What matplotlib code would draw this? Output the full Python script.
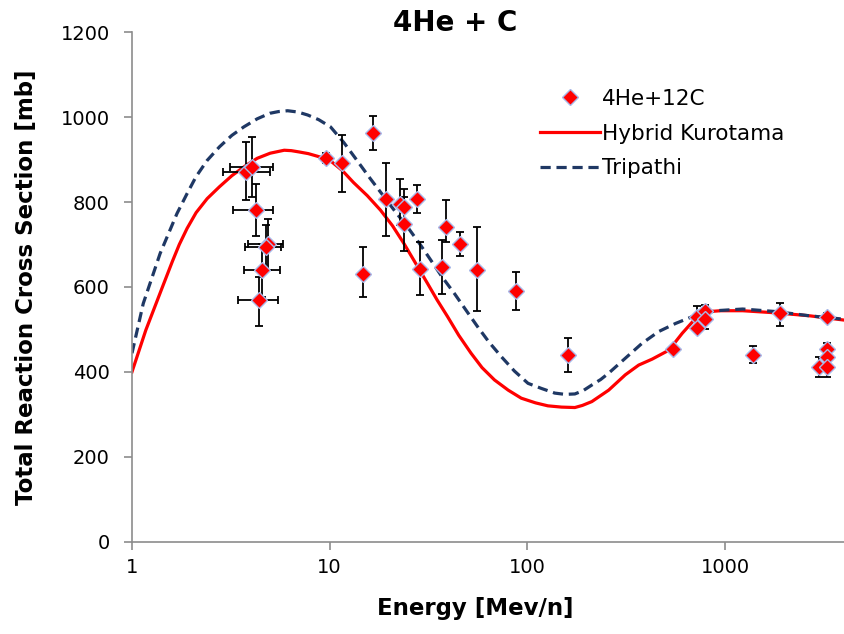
import numpy as np
import matplotlib.pyplot as plt

# measured points (4He + 12C)
energy = [3.79, 4.05, 4.23, 4.88, 4.75, 4.55, 4.39, 9.6, 11.6, 16.5, 14.7, 19.2,
          22.8, 23.9, 23.9, 27.6, 28.6, 38.7, 37.2, 45.6, 55.5, 87.2, 160, 547,
          719, 719, 789, 789, 1900, 1390, 3290, 3290, 3290, 2990, 3290]
sigma = [871, 882, 782, 700, 693, 639, 570, 904, 892, 963, 631, 806,
         796, 788, 749, 806, 643, 741, 647, 700, 639, 590, 440, 453,
         530, 503, 543, 525, 538, 440, 529, 453, 436, 411, 411]
sigma_lo = [804, 812, 721, 639, 640, 576, 509, 893, 823, 923, 576, 721,
            745, 745, 685, 773, 580, 706, 584, 672, 543, 546, 399, np.nan,
            510, np.nan, 528, 501, 509, 420, 519, 438, np.nan, 387, 387]
sigma_hi = [941, 953, 843, 761, 745, 702, 623, 915, 957, 1002, 694, 892,
            855, 831, 813, 839, 706, 804, 710, 729, 741, 635, 480, np.nan,
            554, np.nan, 558, 540, 563, 460, 539, 468, np.nan, 436, 435]
energy_lo = [2.87, 3.15, 3.24, 3.86, 3.75, 3.67, 3.43]
energy_hi = [4.98, 5.15, 5.18, 5.82, 5.70, 5.60, 5.49]

# model curves
kuro_E = [1.0, 1.174, 1.426, 1.6, 1.735, 1.9, 2.11, 2.4, 2.77, 3.2, 3.79, 4.3, 5.0, 5.89,
          6.4, 7.0, 7.8, 8.95, 10.1, 11.6, 13.2, 15.5, 18.07, 20.8, 23.7, 27.2, 31.2,
          35, 39.5, 45, 51.9, 59, 68.2, 80, 93.2, 110, 127, 149, 174, 190, 212, 258,
          313, 366, 428, 520, 608, 710, 760, 831, 950, 1228, 1813, 2683, 4000]
kuro_sig = [400, 498, 600, 660, 700, 738, 775, 808, 836, 862, 887, 903, 915, 922,
            921, 918, 914, 906, 897, 874, 846, 815, 781, 744, 703, 656, 609,
            569, 530, 486, 444, 410, 381, 357, 338, 327, 320, 317, 316, 321, 330, 357,
            393, 416, 430, 451, 491, 526, 536, 542, 544, 544, 539, 532, 522]

trip_E = [1.0, 1.14, 1.388, 1.689, 1.9, 2.11, 2.4, 2.77, 3.2, 3.68, 4.3, 4.98, 5.5,
          6.13, 6.9, 7.74, 8.8, 10.1, 11.8, 13.7, 16, 18.8, 21.5, 24.7, 28.5, 32.5,
          37, 42.7, 49, 56.1, 64, 73.8, 86, 100.8, 117.8, 137.7, 155, 174, 192, 212,
          235, 258, 313, 380, 462, 562, 683, 898, 1228, 1813, 2683, 4000]
trip_sig = [444, 561, 679, 773, 820, 860, 898, 930, 957, 977, 996, 1009, 1013,
            1015, 1012, 1005, 994, 977, 940, 899, 856, 813, 777, 742, 702, 663,
            624, 585, 545, 506, 470, 436, 402, 373, 361, 350, 347, 348, 356, 369,
            382, 397, 432, 467, 495, 514, 530, 544, 548, 542, 532, 524]

E = np.array(energy)
S = np.array(sigma)
lo = np.array(sigma_lo)
hi = np.array(sigma_hi)

fig = plt.figure(figsize=(8.44, 6.34), dpi=100)
ax = fig.add_axes([132 / 844, 1 - 541.7 / 634, 1 - 132 / 844, 509.5 / 634])

ax.plot(kuro_E, kuro_sig, color='#ff0000', lw=2.3, label='Hybrid Kurotama', zorder=2)
ax.plot(trip_E, trip_sig, color='#1f3864', lw=2.3, dashes=(3.2, 1.8), label='Tripathi', zorder=2)

has_err = ~np.isnan(lo)
ax.errorbar(E[has_err], S[has_err], yerr=[S[has_err] - lo[has_err], hi[has_err] - S[has_err]],
            fmt='none', ecolor='black', elinewidth=1.3, capsize=3, capthick=1.3, zorder=3)
n = len(energy_lo)
ax.errorbar(E[:n], S[:n], xerr=[E[:n] - np.array(energy_lo), np.array(energy_hi) - E[:n]],
            fmt='none', ecolor='black', elinewidth=1.3, capsize=3, capthick=1.3, zorder=3)
ax.plot(E, S, ls='none', marker='D', ms=8.5, mfc='#ff0000', mec='#a9b8e8', mew=1.0,
        label='4He+12C', zorder=4)

ax.set_xscale('log')
ax.set_xlim(1, 4000)
ax.set_ylim(0, 1200)
ax.set_yticks(range(0, 1201, 200))
ax.set_xticks([1, 10, 100, 1000])
ax.set_xticklabels(['1', '10', '100', '1000'])
ax.minorticks_off()

for side in ['top', 'right']:
    ax.spines[side].set_visible(False)
for side in ['left', 'bottom']:
    ax.spines[side].set_color('#8c8c8c')
    ax.spines[side].set_linewidth(1.2)
ax.tick_params(axis='both', direction='out', length=6, width=1.2, color='#8c8c8c',
               labelsize=14)
ax.tick_params(axis='y', pad=10)
ax.tick_params(axis='x', pad=6)

ax.set_xlabel('Energy [Mev/n]', fontsize=16.5, fontweight='bold')
ax.xaxis.set_label_coords(0.482, -0.108)
ax.set_ylabel('Total Reaction Cross Section [mb]', fontsize=16.5, fontweight='bold', labelpad=16)
fig.text(455 / 844, 1 - 23 / 634, '4He + C', fontsize=20, fontweight='bold',
         ha='center', va='center')

h, l = ax.get_legend_handles_labels()
order = [2, 0, 1]
ax.legend([h[i] for i in order], [l[i] for i in order], loc='upper left',
          bbox_to_anchor=(540 / 844, 1 - 89 / 634), bbox_transform=fig.transFigure,
          frameon=False, fontsize=15.5, handlelength=2.8, handletextpad=0.1,
          labelspacing=0.68, borderpad=0, borderaxespad=0, numpoints=1)

fig.savefig('out.png', dpi=100)
